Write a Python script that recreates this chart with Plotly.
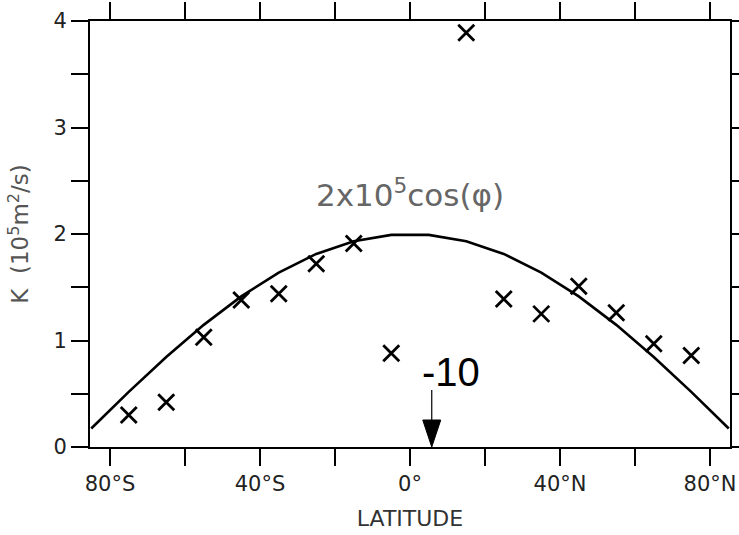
import plotly.graph_objects as go

# Observed diffusivity estimates, K in units of 1e5 m^2/s, at band-centre latitudes
obs_lat = [-75, -65, -55, -45, -35, -25, -15, -5, 15, 25, 35, 45, 55, 65, 75]
obs_k = [0.30, 0.42, 1.03, 1.38, 1.44, 1.72, 1.91, 0.88, 3.89, 1.39, 1.25, 1.51, 1.26, 0.97, 0.86]

# Off-scale value at 5 deg, marked with an arrow
outlier_lat = 5
outlier_k = -10

# Reference profile 2x10^5 cos(phi), tabulated every 10 deg
ref_lat = [-85, -75, -65, -55, -45, -35, -25, -15, -5, 5, 15, 25, 35, 45, 55, 65, 75, 85]
ref_k = [0.174, 0.518, 0.845, 1.147, 1.414, 1.638, 1.813, 1.932, 1.992,
         1.992, 1.932, 1.813, 1.638, 1.414, 1.147, 0.845, 0.518, 0.174]

x_tickvals = [-80, -60, -40, -20, 0, 20, 40, 60, 80]
x_ticktext = ["80°S", "", "40°S", "", "0°", "", "40°N", "", "80°N"]
y_tickvals = [0, 0.5, 1, 1.5, 2, 2.5, 3, 3.5, 4]
y_ticktext = ["0", "", "1", "", "2", "", "3", "", "4"]

FONT = "DejaVu Sans, sans-serif"
BIG_FONT = "Liberation Sans, Arial, sans-serif"

fig = go.Figure()

fig.add_trace(go.Scatter(
    x=ref_lat, y=ref_k, mode="lines",
    line=dict(color="black", width=2.6),
    hoverinfo="skip", showlegend=False,
))

fig.add_trace(go.Scatter(
    x=obs_lat, y=obs_k, mode="markers",
    marker=dict(symbol="x-thin", size=16, line=dict(color="black", width=2.8)),
    hoverinfo="skip", showlegend=False,
))

# Arrow pointing down at the axis for the off-scale value
fig.add_shape(
    type="line", xref="x", yref="y", xsizemode="pixel", ysizemode="pixel",
    xanchor=outlier_lat, yanchor=0,
    x0=3, x1=3, y0=26, y1=57,
    line=dict(color="black", width=1.2),
)
fig.add_shape(
    type="path", xref="x", yref="y", xsizemode="pixel", ysizemode="pixel",
    xanchor=outlier_lat, yanchor=0,
    path="M -6 27 L 12 27 L 3 0 Z",
    fillcolor="black", line=dict(color="black", width=1),
)
fig.add_annotation(
    x=outlier_lat, y=0, xref="x", yref="y",
    text=str(outlier_k), showarrow=False,
    xshift=22, yshift=75, xanchor="center", yanchor="middle",
    font=dict(family=BIG_FONT, size=40, color="black"),
)

# Label for the reference curve
fig.add_annotation(
    x=0, y=2.385, xref="x", yref="y",
    text="2x10<sup>5</sup>cos(φ)", showarrow=False,
    xanchor="center", yanchor="middle",
    font=dict(family=FONT, size=31, color="#666666"),
)

axis_common = dict(
    showline=True, linecolor="black", linewidth=2,
    mirror="allticks", ticks="outside", ticklen=17, tickwidth=2,
    tickcolor="black", showgrid=False, zeroline=False, automargin=False,
    tickfont=dict(family=FONT, size=21, color="#222222"),
)

fig.update_xaxes(
    range=[-85.33, 85.33], tickmode="array",
    tickvals=x_tickvals, ticktext=x_ticktext,
    title=dict(text="LATITUDE", font=dict(family=FONT, size=22, color="#333333"), standoff=15),
    **axis_common,
)
fig.update_yaxes(
    range=[0, 4], tickmode="array",
    tickvals=y_tickvals, ticktext=y_ticktext,
    title=dict(text="K  (10<sup>5</sup>m<sup>2</sup>/s)", font=dict(family=FONT, size=23, color="#555555"), standoff=18),
    **axis_common,
)

fig.update_layout(
    width=739, height=535,
    margin=dict(l=90, r=9, t=21, b=88),
    plot_bgcolor="white", paper_bgcolor="white",
)

fig.write_html("out.html")
